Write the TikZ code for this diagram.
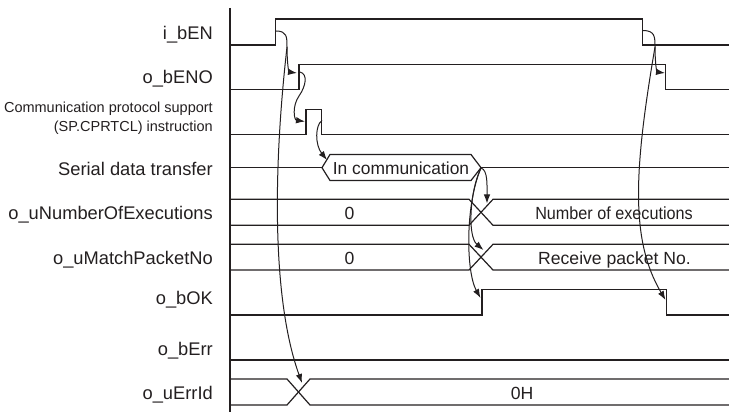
\documentclass[tikz,border=0pt]{standalone}
\usepackage{fontspec}
\setmainfont{Liberation Sans}
\usetikzlibrary{arrows.meta}
\definecolor{ink}{HTML}{231F20}
\begin{document}
\begin{tikzpicture}[x=1pt,y=-1pt,
  sig/.style={line width=1.2pt, draw=ink, line join=miter},
  ar/.style={line width=1pt, draw=ink, -{Latex[length=9pt,width=6.5pt]}},
  lbl/.style={anchor=base east, inner sep=0pt, text=ink, font=\fontsize{18.3}{20}\selectfont},
  sml/.style={anchor=base east, inner sep=0pt, text=ink, font=\fontsize{14.5}{17}\selectfont},
  val/.style={anchor=base, inner sep=0pt, text=ink, font=\fontsize{17.6}{20}\selectfont}]
\useasboundingbox (0,0) rectangle (729,414);
% labels
\node[lbl] (lEN) at (213,39.3) {i\_bEN};
\node[lbl] (lENO) at (213,83.3) {o\_bENO};
\node[sml] (lCP1) at (213,113) {Communication protocol support};
\node[sml] (lCP2) at (213,131.5) {(SP.CPRTCL) instruction};
\node[lbl] (lSD) at (213,176) {Serial data transfer};
\node[lbl] (lNE) at (213,219.3) {o\_uNumberOfExecutions};
\node[lbl] (lMP) at (213,264.3) {o\_uMatchPacketNo};
\node[lbl] (lOK) at (213,305) {o\_bOK};
\node[lbl] (lER) at (213,355.7) {o\_bErr};
\node[lbl] (lEI) at (213,399.3) {o\_uErrId};
% axis
\draw[sig] (230,8) -- (230,412);
% i_bEN
\draw[sig] (230,45) -- (275.7,45) -- (275.7,19) -- (642.7,19) -- (642.7,45) -- (729,45);
% o_bENO
\draw[sig] (230,89.7) -- (299,89.7) -- (299,64.3) -- (665.7,64.3) -- (665.7,89.7) -- (729,89.7);
% CPRTCL
\draw[sig] (230,134.3) -- (306,134.3) -- (306,109.3) -- (321.7,109.3) -- (321.7,134.3) -- (729,134.3);
% serial data transfer
\draw[sig] (230,167.7) -- (322,167.7);
\draw[sig] (322,167.7) -- (330,154.5) -- (471,154.5) -- (481,167.7) -- (471,180.5) -- (330,180.5) -- cycle;
\draw[sig] (481,167.7) -- (729,167.7);
\node[val, font=\fontsize{17.4}{20}\selectfont] (tIC) at (401,174.3) {In communication};
% number of executions
\draw[sig] (230,199.3) -- (469,199.3) -- (493,225.3) -- (729,225.3);
\draw[sig] (230,225.3) -- (469,225.3) -- (493,199.3) -- (729,199.3);
\node[val] (tNE0) at (349.5,219.3) {0};
\node[val, xscale=0.92, transform shape] (tNE) at (614,219.3) {Number of executions};
% match packet
\draw[sig] (230,244.3) -- (469,244.3) -- (493,270) -- (729,270);
\draw[sig] (230,270) -- (469,270) -- (493,244.3) -- (729,244.3);
\node[val] (tMP0) at (349.5,264.3) {0};
\node[val] (tMP) at (614.5,264.3) {Receive packet No.};
% o_bOK
\draw[sig] (230,315) -- (482,315) -- (482,289.3) -- (666.7,289.3) -- (666.7,315) -- (729,315);
% o_bErr
\draw[sig] (230,360) -- (729,360);
% o_uErrId
\draw[sig] (230,379) -- (287,379) -- (310,405) -- (729,405);
\draw[sig] (230,405) -- (287,405) -- (310,379) -- (729,379);
\node[val] (tEI) at (522,399.3) {0H};
% connector end points
\coordinate (enUp) at (276,31);
\coordinate (br1) at (287,47);
\coordinate (enoUpIn) at (297,73);
\coordinate (enoUpOut) at (300,72);
\coordinate (cpUpIn) at (305,121.5);
\coordinate (cpDnOut) at (322,120.5);
\coordinate (hexIn) at (327,160);
\coordinate (hexOut) at (481,168);
\coordinate (neIn) at (487,203.5);
\coordinate (mpIn) at (483.5,250);
\coordinate (okUpIn) at (480.5,298);
\coordinate (eiIn) at (302,383);
\coordinate (enDn) at (643,30.5);
\coordinate (br2) at (655,47);
\coordinate (enoDnIn) at (665,73);
\coordinate (okDnIn) at (665.5,300);
% connectors
\draw[ar] (enUp) .. controls (287,31) and (287,37) .. (br1) .. controls (287,64) and (289,72) .. (enoUpIn);
\draw[ar] (br1) .. controls (273,170) and (272,300) .. (eiIn);
\draw[ar] (enoUpOut) .. controls (308,74) and (306,86) .. (299,96) .. controls (292,106) and (294,120) .. (cpUpIn);
\draw[ar] (cpDnOut) .. controls (315,125) and (315,145) .. (hexIn);
\draw[ar] (hexOut) .. controls (488,170) and (487,186) .. (neIn);
\draw[ar] (hexOut) .. controls (470,190) and (467,236) .. (mpIn);
\draw[ar] (hexOut) .. controls (465,205) and (466,272) .. (okUpIn);
\draw[ar] (enDn) .. controls (655,30.5) and (655,37) .. (br2) .. controls (655,64) and (657,72) .. (enoDnIn);
\draw[ar] (br2) .. controls (634,170) and (630,240) .. (okDnIn);
\end{tikzpicture}
\end{document}
